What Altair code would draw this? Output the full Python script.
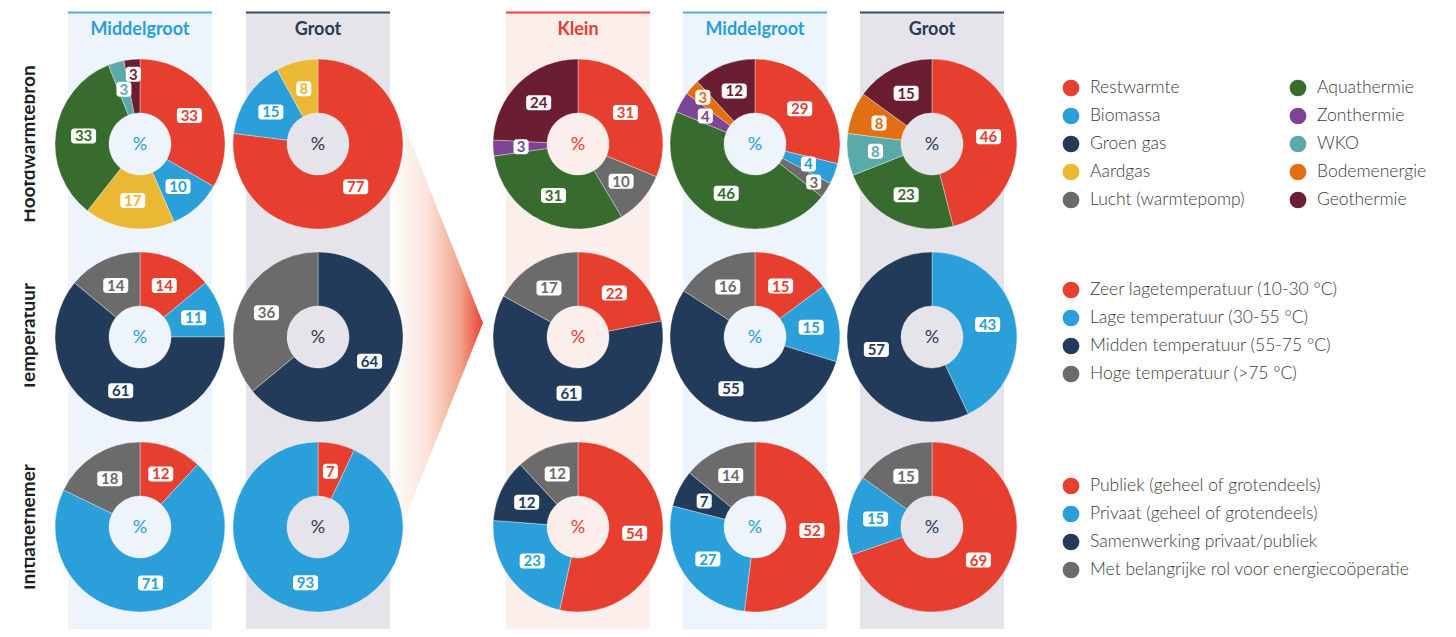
import altair as alt
import pandas as pd

# ---------------- data ----------------
columns = ["Middelgroot", "Groot", "Klein", "Middelgroot", "Groot"]
row_titles = ["Hoofdwarmtebron", "Temperatuur", "Initiatiefnemer"]

heat_sources = ["Restwarmte", "Biomassa", "Groen gas", "Aardgas", "Lucht (warmtepomp)",
                "Aquathermie", "Zonthermie", "WKO", "Bodemenergie", "Geothermie"]
heat_colors = ["#E63E2F", "#2A9FD9", "#233B5B", "#EBB834", "#6B6B6B",
               "#386B2E", "#7E4494", "#5AAAA9", "#E07013", "#6B1D32"]
# one list per column, in the order of heat_sources (0 = not present)
heat_values = [
    [33, 10, 0, 17, 0, 33, 0, 3, 0, 3],
    [77, 15, 0, 8, 0, 0, 0, 0, 0, 0],
    [31, 0, 0, 0, 10, 31, 3, 0, 0, 24],
    [29, 4, 0, 0, 3, 46, 4, 0, 3, 12],
    [46, 0, 0, 0, 0, 23, 0, 8, 8, 15],
]

temp_classes = ["Zeer lagetemperatuur (10-30 °C)", "Lage temperatuur (30-55 °C)",
                "Midden temperatuur (55-75 °C)", "Hoge temperatuur (>75 °C)"]
temp_colors = ["#E63E2F", "#2A9FD9", "#233B5B", "#6B6B6B"]
temp_values = [
    [14, 11, 61, 14],
    [0, 0, 64, 36],
    [22, 0, 61, 17],
    [15, 15, 55, 16],
    [0, 43, 57, 0],
]

init_classes = ["Publiek (geheel of grotendeels)", "Privaat (geheel of grotendeels)",
                "Samenwerking privaat/publiek", "Met belangrijke rol voor energiecoöperatie"]
init_colors = ["#E63E2F", "#2A9FD9", "#233B5B", "#6B6B6B"]
init_values = [
    [12, 71, 0, 18],
    [7, 93, 0, 0],
    [54, 23, 12, 12],
    [52, 27, 7, 14],
    [69, 15, 0, 15],
]

# ---------------- layout / style ----------------
FONT = "Lato"
W, H = 1440, 621
COL_X = [132, 310, 570, 747, 924]
ROW_Y = [136, 329, 519]
BAND_HALF = 72
R_OUT, R_IN, R_LAB, R_LAB_OUT = 85, 31, 57, 70

styles = {
    "Middelgroot": dict(bg="#EDF4FC", line="#4DAFE4", title="#2A9FD9"),
    "Groot": dict(bg="#E5E4EB", line="#3E4A60", title="#2B3A55"),
    "Klein": dict(bg="#FCEEEA", line="#E8432F", title="#E63E2F"),
}
THETA_SCALE = alt.Scale(domain=[0, 1])

one = pd.DataFrame({"k": [0]})
layers = []

# column bands, top lines and titles
for c, name in enumerate(columns):
    st = styles[name]
    cx = COL_X[c]
    layers.append(alt.Chart(one).mark_rect(color=st["bg"]).encode(
        x=alt.value(cx - BAND_HALF), x2=alt.value(cx + BAND_HALF),
        y=alt.value(4), y2=alt.value(H)))
    layers.append(alt.Chart(one).mark_rect(color=st["line"]).encode(
        x=alt.value(cx - BAND_HALF), x2=alt.value(cx + BAND_HALF),
        y=alt.value(3.5), y2=alt.value(5.5)))
    layers.append(alt.Chart(one).mark_text(
        font=FONT, fontSize=18, fontWeight="bold", color=st["title"], baseline="middle"
    ).encode(x=alt.value(cx), y=alt.value(22), text=alt.value(name)))

# gradient arrow between the two groups
tri = pd.DataFrame({"x": [382, 475], "y": [82, 315], "y2": [548, 315]})
grad = alt.Gradient(
    gradient="linear", x1=0, x2=1, y1=0, y2=0,
    stops=[alt.GradientStop(color="#FFFFFF", offset=0),
           alt.GradientStop(color="#FBE3DB", offset=0.4),
           alt.GradientStop(color="#F2A48C", offset=0.75),
           alt.GradientStop(color="#E8432F", offset=1)])
layers.append(alt.Chart(tri).mark_area(color=grad, orient="vertical").encode(
    x=alt.X("x:Q", scale=None), y=alt.Y("y:Q", scale=None), y2="y2:Q"))

# donuts
groups = [(heat_sources, heat_colors, heat_values),
          (temp_classes, temp_colors, temp_values),
          (init_classes, init_colors, init_values)]

for r, (cats, cols, vals) in enumerate(groups):
    cy = ROW_Y[r]
    for c in range(5):
        cx = COL_X[c]
        recs = []
        prev_small = False
        for i, (cat, colr, v) in enumerate(zip(cats, cols, vals[c])):
            if v <= 0:
                continue
            small = v < 5
            lr = R_LAB_OUT if (small and prev_small) else R_LAB
            prev_small = small
            recs.append(dict(cat=cat, color=colr, value=v, ord=i, lr=lr))
        df = pd.DataFrame(recs)

        arc = alt.Chart(df).mark_arc(
            outerRadius=R_OUT, innerRadius=R_IN,
            stroke="#FFFFFF", strokeWidth=0.5, strokeOpacity=0.7
        ).encode(
            theta=alt.Theta("value:Q", stack="normalize", scale=THETA_SCALE),
            order=alt.Order("ord:Q"),
            color=alt.Color("color:N", scale=None),
            x=alt.value(cx), y=alt.value(cy))

        mids = alt.Chart(df).transform_joinaggregate(
            total="sum(value)"
        ).transform_window(
            cum="sum(value)", sort=[alt.SortField("ord")], frame=[None, 0]
        ).transform_calculate(
            mid="(datum.cum - datum.value / 2) / datum.total"
        )
        box = mids.transform_calculate(
            bx=f"{cx} + datum.lr * sin(2 * PI * datum.mid)",
            by=f"{cy} - datum.lr * cos(2 * PI * datum.mid)",
            hw="datum.value >= 10 ? 12.5 : 7.5"
        ).transform_calculate(
            bx1="datum.bx - datum.hw", bx2="datum.bx + datum.hw",
            by1="datum.by - 7.5", by2="datum.by + 7.5"
        ).mark_rect(color="#FFFFFF", cornerRadius=3).encode(
            x=alt.X("bx1:Q", scale=None), x2="bx2:Q",
            y=alt.Y("by1:Q", scale=None), y2="by2:Q")
        lab = mids.mark_text(font=FONT, fontSize=15, fontWeight="bold",
                             baseline="middle", dy=0.5).encode(
            theta=alt.Theta("mid:Q", stack=False, scale=THETA_SCALE),
            radius=alt.Radius("lr:Q", scale=None),
            x=alt.value(cx), y=alt.value(cy),
            text="value:Q", color=alt.Color("color:N", scale=None))
        pct = alt.Chart(one).mark_text(
            font=FONT, fontSize=18, color=styles[columns[c]]["title"], baseline="middle"
        ).encode(x=alt.value(cx), y=alt.value(cy + 1), text=alt.value("%"))
        layers += [arc, box, lab, pct]

# row titles (cut off at the left edge as in the original)
for r, t in enumerate(row_titles):
    layers.append(alt.Chart(one).mark_text(
        font=FONT, fontSize=19, fontWeight="bold", color="#1E1E1E",
        angle=270, align="center", baseline="alphabetic"
    ).encode(x=alt.value(27), y=alt.value(ROW_Y[r]), text=alt.value(t)))
layers.append(alt.Chart(one).mark_rect(color="#FFFFFF").encode(
    x=alt.value(-8), x2=alt.value(16.5), y=alt.value(0), y2=alt.value(H)))

# legends
leg_recs = []
for i, (n, cl) in enumerate(zip(heat_sources, heat_colors)):
    leg_recs.append(dict(name=n, color=cl, x=1063 + 227 * (i // 5), y=80 + 28 * (i % 5)))
for i, (n, cl) in enumerate(zip(temp_classes, temp_colors)):
    leg_recs.append(dict(name=n, color=cl, x=1063, y=282 + 28 * i))
for i, (n, cl) in enumerate(zip(init_classes, init_colors)):
    leg_recs.append(dict(name=n, color=cl, x=1063, y=478 + 28 * i))
leg = pd.DataFrame(leg_recs)
leg_base = alt.Chart(leg).encode(x=alt.X("x:Q", scale=None), y=alt.Y("y:Q", scale=None))
layers.append(leg_base.mark_circle(size=280, opacity=1).encode(
    color=alt.Color("color:N", scale=None)))
layers.append(leg_base.mark_text(font=FONT, fontSize=17.5, fontWeight=300, color="#3A3A3A",
                                 align="left", baseline="middle", dx=19).encode(text="name:N"))

chart = alt.layer(*layers).properties(
    width=W, height=H, padding=0, autosize=alt.AutoSizeParams(type="none")
).configure_view(strokeWidth=0)

chart.save("out.html", embed_options={"renderer": "svg", "actions": False})
